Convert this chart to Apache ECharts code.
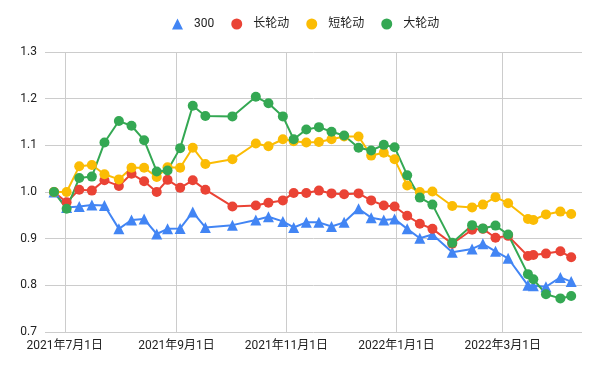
<!DOCTYPE html>
<html>
<head>
<meta charset="utf-8">
<script src="https://cdn.jsdelivr.net/npm/echarts@6/dist/echarts.min.js"></script>
<style>html,body{margin:0;padding:0;background:#fff}#c{width:600px;height:371px}</style>
</head>
<body>
<div id="c"></div>
<script>
const dates = ['2021-06-25','2021-07-02','2021-07-09','2021-07-16','2021-07-23','2021-07-31','2021-08-07','2021-08-14','2021-08-21','2021-08-27','2021-09-03','2021-09-10','2021-09-17','2021-10-02','2021-10-15','2021-10-22','2021-10-30','2021-11-05','2021-11-12','2021-11-19','2021-11-26','2021-12-03','2021-12-11','2021-12-18','2021-12-25','2021-12-31','2022-01-07','2022-01-14','2022-01-21','2022-02-01','2022-02-12','2022-02-18','2022-02-25','2022-03-04','2022-03-15','2022-03-18','2022-03-25','2022-04-02','2022-04-08'];
const s300 = [1.000,0.967,0.969,0.972,0.971,0.921,0.940,0.942,0.910,0.921,0.922,0.957,0.924,0.929,0.940,0.947,0.937,0.924,0.935,0.935,0.926,0.935,0.964,0.945,0.940,0.942,0.921,0.901,0.909,0.871,0.878,0.889,0.873,0.858,0.800,0.799,0.797,0.817,0.808];
const sLong = [1.000,0.978,1.005,1.003,1.025,1.013,1.039,1.023,1.000,1.026,1.009,1.025,1.005,0.969,0.971,0.977,0.982,0.998,0.998,1.003,0.997,0.995,0.997,0.982,0.971,0.969,0.949,0.932,0.921,0.889,0.919,0.921,0.902,0.906,0.863,0.865,0.868,0.873,0.860];
const sShort = [1.000,1.000,1.055,1.058,1.038,1.027,1.052,1.052,1.032,1.053,1.052,1.095,1.060,1.070,1.104,1.098,1.113,1.109,1.106,1.107,1.113,1.119,1.119,1.078,1.084,1.070,1.014,1.000,1.001,0.970,0.967,0.973,0.989,0.976,0.942,0.940,0.952,0.958,0.953];
const sBig = [1.000,0.964,1.030,1.033,1.106,1.152,1.142,1.111,1.044,1.046,1.094,1.185,1.163,1.162,1.204,1.190,1.162,1.113,1.134,1.139,1.129,1.121,1.095,1.089,1.101,1.096,1.036,0.988,0.973,0.891,0.929,0.922,0.928,0.909,0.824,0.813,0.781,0.772,0.777];
const seriesNames = ['300','长轮动','短轮动','大轮动'];
const seriesColors = ['#4285F4','#EA4335','#FBBC04','#34A853'];
const seriesSymbols = ['triangle','circle','circle','circle'];
const tickDates = ['2021-07-01','2021-09-01','2021-11-01','2022-01-01','2022-03-01'];
const xRange = ['2021-06-20','2022-04-14'];
const yTicks = {min:0.7, max:1.3, interval:0.1};

function ts(s){const p=s.split('-').map(Number);return Date.UTC(p[0],p[1]-1,p[2]);}
const font = "Roboto, 'Noto Sans CJK SC', sans-serif";
const allData = [s300, sLong, sShort, sBig];
const chart = echarts.init(document.getElementById('c'));
chart.setOption({
  animation:false,
  textStyle:{fontFamily:font},
  legend:{
    top:13, left:167, itemWidth:11, itemHeight:11, itemGap:17,
    textStyle:{fontSize:12, color:'#222', fontFamily:font, padding:[0,0,0,6]},
    data: seriesNames.map((n,i)=>({name:n, icon:seriesSymbols[i]}))
  },
  grid:{left:45, right:18, top:52, bottom:39},
  xAxis:{
    type:'value', min:ts(xRange[0]), max:ts(xRange[1]),
    axisLine:{show:false},
    axisTick:{show:false, customValues: tickDates.map(ts)},
    axisLabel:{customValues: tickDates.map(ts), fontSize:12, color:'#222', margin:8, fontFamily:font,
      formatter:function(v){const d=new Date(v);return d.getUTCFullYear()+'年'+(d.getUTCMonth()+1)+'月'+d.getUTCDate()+'日';}},
    splitLine:{show:true, lineStyle:{color:'#cccccc', width:1}}
  },
  yAxis:{
    type:'value', min:yTicks.min, max:yTicks.max, interval:yTicks.interval,
    axisLine:{show:false}, axisTick:{show:false},
    axisLabel:{fontSize:12, color:'#222', margin:8, fontFamily:font, formatter:function(v){return v.toFixed(1);}},
    splitLine:{lineStyle:{color:'#cccccc', width:1}}
  },
  series: seriesNames.map((n,i)=>({
    name:n, type:'line',
    data: dates.map((d,j)=>[ts(d), allData[i][j]]),
    symbol: seriesSymbols[i], symbolSize: seriesSymbols[i]==='triangle'?11:10,
    showAllSymbol:true,
    itemStyle:{color:seriesColors[i]},
    lineStyle:{color:seriesColors[i], width:2}
  }))
});
</script>
</body>
</html>
